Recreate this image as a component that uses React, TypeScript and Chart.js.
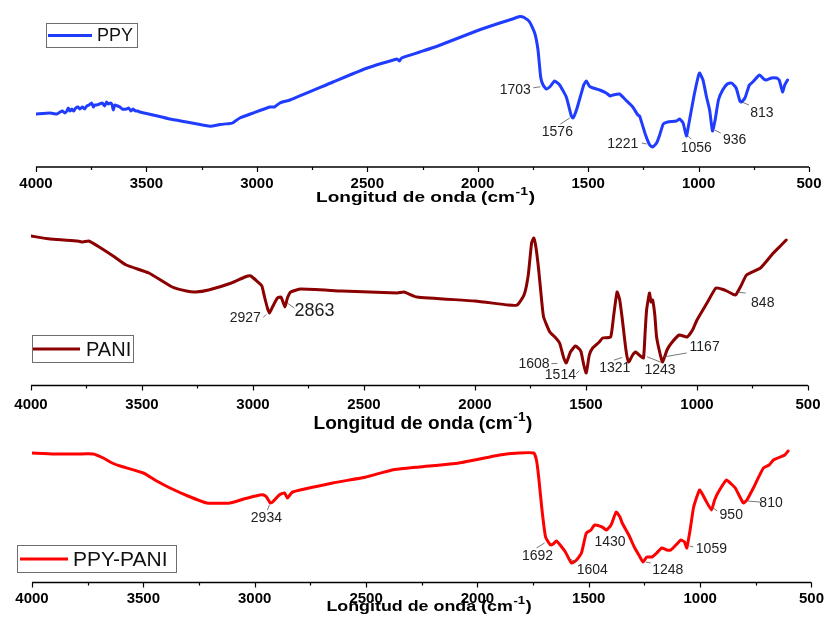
import { useEffect, useRef } from "react";
import { Chart, registerables } from "chart.js";

Chart.register(...registerables);

const FONT = '"Liberation Sans", Arial, Helvetica, sans-serif';

// Wavenumber axis (cm-1), drawn high → low
const X_MIN = 500;
const X_MAX = 4000;
const X_MAJOR = 500;
const X_MINOR = 250;
const X_TITLE = "Longitud de onda (cm";
const X_TITLE_SUP = "-1";
const X_TITLE_END = ")";

// ---- PPY spectrum ----
const ppyWn = [
  4000, 3937, 3905, 3891, 3880, 3870, 3860, 3854, 3846, 3838, 3830, 3820, 3810, 3801, 3790, 3780, 3770,
  3760, 3748, 3740, 3735, 3725, 3712, 3700, 3690, 3680, 3673, 3662, 3655, 3650, 3643, 3630, 3620, 3610,
  3590, 3580, 3570, 3560, 3550, 3540, 3529, 3469, 3394, 3318, 3270, 3220, 3200, 3167, 3122, 3110, 3077,
  3017, 2941, 2920, 2896, 2850, 2655, 2500, 2365, 2355, 2345, 2262, 2181, 2000, 1900, 1842, 1810, 1790,
  1765, 1742, 1727, 1715, 1704, 1689, 1670, 1652, 1629, 1599, 1576, 1568, 1550, 1520, 1508, 1495, 1478,
  1448, 1418, 1400, 1388, 1358, 1330, 1298, 1275, 1267, 1240, 1221, 1208, 1190, 1176, 1160, 1140, 1100,
  1086, 1070, 1055, 1045, 1020, 1000, 995, 980, 964, 950, 937, 925, 910, 891, 870, 851, 830, 813, 806,
  790, 770, 755, 724, 705, 692, 670, 647, 635, 625, 619, 610, 597,
];
const ppyT = [
  53, 54, 53, 55, 56, 54, 56, 59, 56, 58, 56, 59, 60, 58, 60, 58, 61,
  62, 64, 60, 62, 62, 63, 64, 61, 65, 63, 64, 62, 57, 62, 61, 60, 58,
  58, 59, 56, 58, 56, 56, 55, 52, 48, 45, 43, 41, 41, 42.5, 43.5, 44, 49,
  54, 60, 60, 64, 67, 85, 99, 108, 106, 109, 115, 121, 136.5, 144, 148, 150.5, 149.5,
  145, 134, 117, 90, 82, 78, 81, 86, 82, 70, 51, 49, 59, 82, 86, 81, 79,
  77, 74, 71, 72, 73, 67, 60, 52, 51, 32, 22, 20, 24, 32, 43, 45, 46,
  48, 44, 31, 42, 72, 92, 94, 87, 70, 57, 36, 47, 67, 77, 83, 84, 79, 66, 65,
  69, 82, 85, 92, 88, 87, 89, 89, 87, 79, 75, 82, 87,
];
const ppyPeaks = [1703, 1576, 1221, 1056, 936, 813];

// ---- PANI spectrum ----
const paniWn = [
  4000, 3914, 3850, 3790, 3766, 3740, 3700, 3630, 3571, 3469, 3364, 3300, 3259, 3200, 3097, 3036, 3010,
  2978, 2960, 2948, 2935, 2926, 2910, 2890, 2874, 2856, 2845, 2830, 2785, 2600, 2350, 2320, 2262, 2000,
  1850, 1810, 1779, 1760, 1745, 1735, 1725, 1713, 1700, 1691, 1663, 1640, 1619, 1600, 1589, 1570, 1548,
  1530, 1522, 1510, 1499, 1485, 1470, 1440, 1425, 1389, 1375, 1360, 1348, 1336, 1320, 1308, 1290, 1277,
  1255, 1241, 1233, 1227, 1214, 1207, 1200, 1190, 1182, 1165, 1155, 1135, 1115, 1080, 1045, 1020, 1000,
  955, 915, 890, 866, 840, 826, 800, 777, 714, 656, 620, 598,
];
const paniT = [
  149.5, 146.5, 145.5, 144.5, 143.5, 144.5, 139.5, 129.5, 120.5, 112.5, 98.5, 94.5, 93.5, 95.5, 102.5, 108.5, 109.5,
  103.5, 99.5, 88.5, 77.5, 72.5, 79.5, 87.5, 88.5, 78.5, 87.5, 93.5, 96.5, 94.5, 92.5, 93.5, 88.5, 84.5,
  80.5, 80.5, 90.5, 110.5, 142.5, 147.5, 137.5, 115.5, 85.5, 68.5, 53.5, 48.5, 42.5, 27.5, 22.5, 33.5, 39.5,
  36.5, 33.5, 20.5, 12.5, 30.5, 37.5, 43.5, 47.5, 48.5, 70.5, 93.5, 85.5, 65.5, 35.5, 23.5, 30.5, 33.5,
  29.5, 27.5, 55.5, 75.5, 92.5, 83.5, 85.5, 70.5, 48.5, 30.5, 23.5, 35.5, 42.5, 50.5, 48.5, 55.5, 65.5,
  82.5, 97.5, 96.5, 94.5, 91.5, 90.5, 100.5, 110.5, 117.5, 132.5, 140.5, 145.5,
];
const paniPeaks = [2927, 2863, 1608, 1514, 1321, 1243, 1167, 848];

// ---- PPY-PANI spectrum ----
const mixWn = [
  4000, 3900, 3800, 3725, 3680, 3640, 3604, 3500, 3440, 3380, 3300, 3215, 3111, 3050, 2977, 2960, 2947,
  2930, 2920, 2890, 2866, 2853, 2830, 2650, 2500, 2383, 2262, 2083, 1900, 1814, 1747, 1735, 1725, 1710,
  1694, 1672, 1660, 1645, 1625, 1605, 1578, 1555, 1533, 1511, 1490, 1474, 1440, 1421, 1400, 1377, 1360,
  1350, 1320, 1296, 1275, 1256, 1240, 1216, 1195, 1172, 1150, 1132, 1100, 1087, 1070, 1060, 1045, 1029,
  1003, 990, 971, 949, 935, 918, 882, 860, 842, 806, 790, 761, 716, 690, 671, 640, 620, 605,
];
const mixT = [
  129.5, 128.5, 128.5, 128.5, 124.5, 119.5, 116.5, 109.5, 101.5, 94.5, 86.5, 79.5, 79.5, 83.5, 87.5, 87.5, 85.5,
  79.5, 80.5, 87.5, 89.5, 84.5, 90.5, 99.5, 105.5, 112.5, 115.5, 119.5, 127.5, 129.5, 129.5, 122.5, 105.5, 72.5,
  45.5, 37.5, 38.5, 41.5, 36.5, 30.5, 19.5, 22.5, 29.5, 49.5, 52.5, 57.5, 55.5, 52.5, 57.5, 70.5, 65.5,
  59.5, 47.5, 35.5, 27.5, 20.5, 25.5, 25.5, 29.5, 34.5, 32.5, 32.5, 39.5, 42.5, 40.5, 34.5, 52.5, 75.5,
  92.5, 88.5, 80.5, 72.5, 82.5, 90.5, 102.5, 98.5, 94.5, 79.5, 82.5, 94.5, 114.5, 117.5, 122.5, 125.5, 127.5, 131.5,
];
const mixPeaks = [2934, 1692, 1604, 1430, 1248, 1059, 950, 810];

type Tag = { dx: number; dy: number; lead: number[] | null; size: number };

// label placement around each peak: offset of text centre, leader segment (x1,y1,x2,y2), font size
const ppyTags: Tag[] = [
  { dx: -28, dy: 3.5, lead: [-10, 2.5, -3, 1.5], size: 14 },
  { dx: -14, dy: 15, lead: [-11, 8, -1.5, 2], size: 14 },
  { dx: -27, dy: -2, lead: [-8, -2, -3, -1], size: 14 },
  { dx: 10, dy: 12, lead: [5, 4, 2, 1], size: 14 },
  { dx: 22, dy: 9, lead: [8, 3, 2, 0], size: 14 },
  { dx: 22, dy: 11, lead: [9, 4, 2, 1], size: 14 },
];
const paniTags: Tag[] = [
  { dx: -24, dy: 5, lead: [-6, 5, -3, 2], size: 14 },
  { dx: 31, dy: 7, lead: [11, 5, 4, 0], size: 18 },
  { dx: -28, dy: 11.7, lead: [-10.7, 12, -4.7, 11.7], size: 14 },
  { dx: -22.5, dy: 13.3, lead: [-6.8, 13.3, -3.5, 10], size: 14 },
  { dx: -11, dy: 19, lead: [-11.8, 12, -3.5, 9.3], size: 14 },
  { dx: 17, dy: 11.3, lead: [4, -1, 19, 5], size: 14 },
  { dx: 44.7, dy: -7, lead: [3.7, 4.1, 26.7, 0.1], size: 14 },
  { dx: 32, dy: 9, lead: [15, 0, 7, -1], size: 14 },
];
const mixTags: Tag[] = [
  { dx: -3, dy: 15.4, lead: [-2, 8.4, 0, 3.4], size: 14 },
  { dx: -8.5, dy: 17.3, lead: [-9.5, 10.3, -1.5, 5.3], size: 14 },
  { dx: 26.7, dy: 16.6, lead: [9.7, 9.6, 4.7, 6.6], size: 14 },
  { dx: 5.7, dy: 12.4, lead: null, size: 14 },
  { dx: 22.8, dy: 9.5, lead: [5.8, 3.5, 0.8, 2.5], size: 14 },
  { dx: 24.4, dy: 1.2, lead: [6.4, 0.2, 2.4, -0.8], size: 14 },
  { dx: 20, dy: 4.4, lead: [6, 1.4, 2, -1.6], size: 14 },
  { dx: 28.6, dy: 0.7, lead: [5.6, -0.3, 17.6, 0.7], size: 14 },
];

type Panel = {
  name: string;
  color: string;
  wn: number[];
  t: number[];
  peaks: number[];
  tags: Tag[];
  top: number;
  height: number;
  padTop: number;
  padLeft: number;
  padRight: number;
  axisH: number;
  tickPad: number;
  yMax: number;
  title: { cx: number; base: number; size: number; sx: number };
  legend: { x: number; y: number; w: number; h: number; l1: number; l2: number; tx: number; size: number };
};

const panels: Panel[] = [
  {
    name: "PPY",
    color: "#1f3cff",
    wn: ppyWn,
    t: ppyT,
    peaks: ppyPeaks,
    tags: ppyTags,
    top: 0,
    height: 220,
    padTop: 7,
    padLeft: 36,
    padRight: 22,
    axisH: 53,
    tickPad: 7.5,
    yMax: 160,
    title: { cx: 425.5, base: 201.7, size: 15, sx: 1.27 },
    legend: { x: 46.5, y: 23.5, w: 91, h: 24, l1: 48, l2: 92, tx: 97, size: 18 },
  },
  {
    name: "PANI",
    color: "#8b0000",
    wn: paniWn,
    t: paniT,
    peaks: paniPeaks,
    tags: paniTags,
    top: 212,
    height: 226,
    padTop: 13.5,
    padLeft: 31,
    padRight: 15,
    axisH: 52.5,
    tickPad: 10.5,
    yMax: 160,
    title: { cx: 423, base: 216.5, size: 18, sx: 1.06 },
    legend: { x: 32.5, y: 123.5, w: 101, h: 27, l1: 33, l2: 80, tx: 86, size: 20 },
  },
  {
    name: "PPY-PANI",
    color: "#ff0000",
    wn: mixWn,
    t: mixT,
    peaks: mixPeaks,
    tags: mixTags,
    top: 420,
    height: 212,
    padTop: 2.5,
    padLeft: 32,
    padRight: 14,
    axisH: 49.5,
    tickPad: 7,
    yMax: 160,
    title: { cx: 429, base: 190.7, size: 15, sx: 1.19 },
    legend: { x: 17.5, y: 125.5, w: 159, h: 27, l1: 20, l2: 68, tx: 73, size: 21 },
  },
];

// value of the spectrum at a wavenumber, for placing peak labels on the trace
function valueAt(wn: number[], t: number[], v: number): number {
  for (let i = 0; i < wn.length - 1; i++) {
    const a = wn[i];
    const b = wn[i + 1];
    if ((a >= v && v >= b) || (a <= v && v <= b)) {
      const f = (v - a) / (b - a);
      return t[i] + f * (t[i + 1] - t[i]);
    }
  }
  return t[t.length - 1];
}

function decorations(p: Panel) {
  return {
    id: "ftirDecor" + p.name,
    afterDraw(chart: any) {
      const { ctx, chartArea, scales } = chart;
      const xs = scales.x;
      const ys = scales.y;
      ctx.save();

      // axis line + major/minor ticks
      ctx.strokeStyle = "#000";
      ctx.lineWidth = 1.5;
      ctx.beginPath();
      ctx.moveTo(chartArea.left, chartArea.bottom);
      ctx.lineTo(chartArea.right, chartArea.bottom);
      ctx.stroke();
      ctx.lineWidth = 1.2;
      for (let v = X_MIN; v <= X_MAX; v += X_MINOR) {
        const x = Math.round(xs.getPixelForValue(v)) + 0.5;
        const len = v % X_MAJOR === 0 ? 5 : 3;
        ctx.beginPath();
        ctx.moveTo(x, chartArea.bottom);
        ctx.lineTo(x, chartArea.bottom + len);
        ctx.stroke();
      }

      // axis title with superscript exponent
      const tt = p.title;
      const mainFont = `bold ${tt.size}px ${FONT}`;
      const supFont = `bold ${Math.round(tt.size * 0.72)}px ${FONT}`;
      ctx.font = mainFont;
      const w1 = ctx.measureText(X_TITLE).width;
      const w3 = ctx.measureText(X_TITLE_END).width;
      ctx.font = supFont;
      const w2 = ctx.measureText(X_TITLE_SUP).width + 1;
      const total = (w1 + w2 + w3) * tt.sx;
      ctx.translate(tt.cx - total / 2, tt.base);
      ctx.scale(tt.sx, 1);
      ctx.fillStyle = "#000";
      ctx.textAlign = "left";
      ctx.textBaseline = "alphabetic";
      ctx.font = mainFont;
      ctx.fillText(X_TITLE, 0, 0);
      ctx.font = supFont;
      ctx.fillText(X_TITLE_SUP, w1 + 0.5, -tt.size * 0.42);
      ctx.font = mainFont;
      ctx.fillText(X_TITLE_END, w1 + w2, 0);
      ctx.setTransform(1, 0, 0, 1, 0, 0);

      // legend box
      const lg = p.legend;
      ctx.strokeStyle = "#6e6e6e";
      ctx.lineWidth = 1;
      ctx.strokeRect(lg.x, lg.y, lg.w, lg.h);
      const ly = lg.y + lg.h / 2;
      ctx.strokeStyle = p.color;
      ctx.lineWidth = 3;
      ctx.beginPath();
      ctx.moveTo(lg.l1, ly);
      ctx.lineTo(lg.l2, ly);
      ctx.stroke();
      ctx.fillStyle = "#111";
      ctx.font = `${lg.size}px ${FONT}`;
      ctx.textAlign = "left";
      ctx.textBaseline = "middle";
      ctx.fillText(p.name, lg.tx, ly + 1);

      // peak labels with leader lines
      p.peaks.forEach((wn, i) => {
        const tag = p.tags[i];
        const ax = xs.getPixelForValue(wn);
        const ay = ys.getPixelForValue(valueAt(p.wn, p.t, wn));
        if (tag.lead) {
          ctx.strokeStyle = "#555";
          ctx.lineWidth = 0.8;
          ctx.beginPath();
          ctx.moveTo(ax + tag.lead[0], ay + tag.lead[1]);
          ctx.lineTo(ax + tag.lead[2], ay + tag.lead[3]);
          ctx.stroke();
        }
        ctx.fillStyle = "#222";
        ctx.font = `${tag.size}px ${FONT}`;
        ctx.textAlign = "center";
        ctx.textBaseline = "middle";
        ctx.fillText(String(wn), ax + tag.dx, ay + tag.dy + 1);
      });

      ctx.restore();
    },
  };
}

function SpectrumPanel({ p }: { p: Panel }) {
  const ref = useRef<HTMLCanvasElement | null>(null);
  useEffect(() => {
    if (!ref.current) return;
    const chart = new Chart(ref.current, {
      type: "line",
      data: {
        datasets: [
          {
            label: p.name,
            data: p.wn.map((w, i) => ({ x: w, y: p.t[i] })),
            borderColor: p.color,
            borderWidth: 3,
            pointRadius: 0,
            tension: 0.15,
            fill: false,
            borderJoinStyle: "round",
            borderCapStyle: "round",
          },
        ],
      },
      options: {
        animation: false,
        responsive: false,
        devicePixelRatio: 1,
        layout: { padding: { top: p.padTop, left: p.padLeft, right: p.padRight, bottom: 0 } },
        plugins: { legend: { display: false }, tooltip: { enabled: false }, title: { display: false } },
        scales: {
          x: {
            type: "linear",
            reverse: true,
            min: X_MIN,
            max: X_MAX,
            grid: { display: false, drawTicks: false },
            border: { display: false },
            ticks: {
              stepSize: X_MAJOR,
              autoSkip: false,
              maxRotation: 0,
              padding: p.tickPad,
              color: "#000",
              font: { family: FONT, size: 15, weight: "bold" },
              callback: (v: number | string) => String(v),
            },
            afterFit: (scale: any) => {
              scale.height = p.axisH;
            },
          },
          y: { display: false, min: 0, max: p.yMax },
        },
      },
      plugins: [decorations(p)],
    } as any);
    return () => chart.destroy();
  }, [p]);
  return (
    <canvas
      ref={ref}
      width={831}
      height={p.height}
      style={{ position: "absolute", left: 0, top: p.top, width: 831, height: p.height, display: "block" }}
    />
  );
}

export default function App() {
  return (
    <div
      style={{
        position: "fixed",
        left: 0,
        top: 0,
        width: 831,
        height: 620,
        overflow: "hidden",
        background: "#fff",
      }}
    >
      {panels.map((p) => (
        <SpectrumPanel key={p.name} p={p} />
      ))}
    </div>
  );
}
